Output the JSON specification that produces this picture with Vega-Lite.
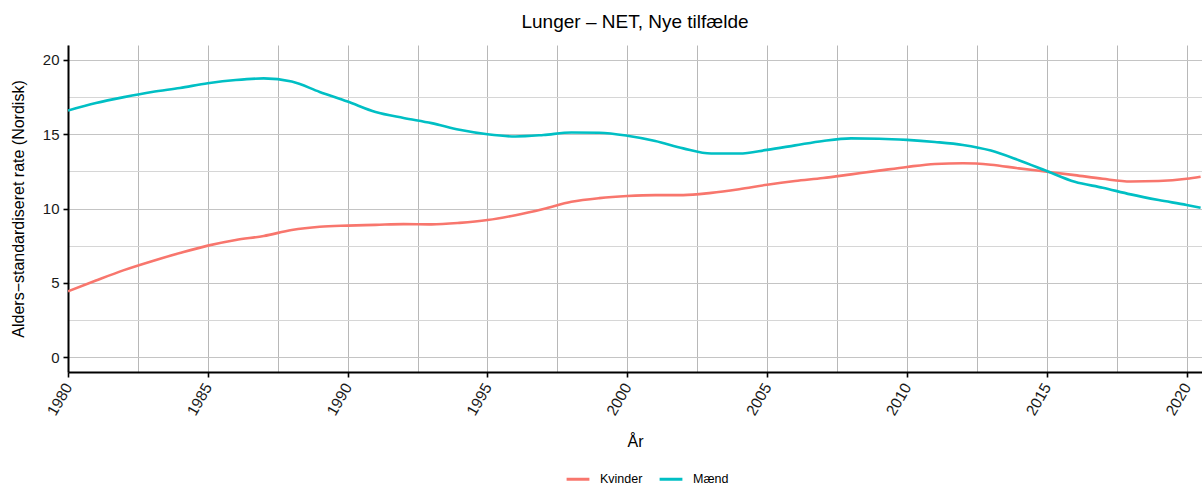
{
  "$schema": "https://vega.github.io/schema/vega-lite/v6.json",
  "autosize": {"type": "none"},
  "padding": {"left": 68, "top": 45, "right": 0, "bottom": 113},
  "width": 1134,
  "height": 327,
  "background": "white",
  "title": {"text": "Lunger – NET, Nye tilfælde", "font": "Liberation Sans", "fontSize": 19, "fontWeight": "normal", "color": "#000", "anchor": "middle", "offset": 13},
  "config": {"view": {"stroke": null}, "font": "Liberation Sans"},
  "data": {"values": [
    {"year": 1980, "sex": "Kvinder", "rate": 4.42},
    {"year": 1981, "sex": "Kvinder", "rate": 5.15},
    {"year": 1982, "sex": "Kvinder", "rate": 5.85},
    {"year": 1983, "sex": "Kvinder", "rate": 6.45},
    {"year": 1984, "sex": "Kvinder", "rate": 7.0},
    {"year": 1985, "sex": "Kvinder", "rate": 7.5},
    {"year": 1986, "sex": "Kvinder", "rate": 7.88},
    {"year": 1987, "sex": "Kvinder", "rate": 8.15},
    {"year": 1988, "sex": "Kvinder", "rate": 8.55},
    {"year": 1989, "sex": "Kvinder", "rate": 8.77},
    {"year": 1990, "sex": "Kvinder", "rate": 8.85},
    {"year": 1991, "sex": "Kvinder", "rate": 8.9},
    {"year": 1992, "sex": "Kvinder", "rate": 8.95},
    {"year": 1993, "sex": "Kvinder", "rate": 8.93},
    {"year": 1994, "sex": "Kvinder", "rate": 9.03},
    {"year": 1995, "sex": "Kvinder", "rate": 9.22},
    {"year": 1996, "sex": "Kvinder", "rate": 9.55},
    {"year": 1997, "sex": "Kvinder", "rate": 9.97},
    {"year": 1998, "sex": "Kvinder", "rate": 10.45},
    {"year": 1999, "sex": "Kvinder", "rate": 10.7},
    {"year": 2000, "sex": "Kvinder", "rate": 10.84},
    {"year": 2001, "sex": "Kvinder", "rate": 10.9},
    {"year": 2002, "sex": "Kvinder", "rate": 10.9},
    {"year": 2003, "sex": "Kvinder", "rate": 11.05},
    {"year": 2004, "sex": "Kvinder", "rate": 11.3},
    {"year": 2005, "sex": "Kvinder", "rate": 11.6},
    {"year": 2006, "sex": "Kvinder", "rate": 11.85},
    {"year": 2007, "sex": "Kvinder", "rate": 12.05},
    {"year": 2008, "sex": "Kvinder", "rate": 12.3},
    {"year": 2009, "sex": "Kvinder", "rate": 12.55},
    {"year": 2010, "sex": "Kvinder", "rate": 12.8},
    {"year": 2011, "sex": "Kvinder", "rate": 13.0},
    {"year": 2012, "sex": "Kvinder", "rate": 13.05},
    {"year": 2013, "sex": "Kvinder", "rate": 12.95},
    {"year": 2014, "sex": "Kvinder", "rate": 12.7},
    {"year": 2015, "sex": "Kvinder", "rate": 12.48},
    {"year": 2016, "sex": "Kvinder", "rate": 12.25},
    {"year": 2017, "sex": "Kvinder", "rate": 12.0},
    {"year": 2018, "sex": "Kvinder", "rate": 11.82},
    {"year": 2019, "sex": "Kvinder", "rate": 11.85},
    {"year": 2020, "sex": "Kvinder", "rate": 12.0},
    {"year": 2020.5, "sex": "Kvinder", "rate": 12.14},
    {"year": 1980, "sex": "Mænd", "rate": 16.6},
    {"year": 1981, "sex": "Mænd", "rate": 17.1},
    {"year": 1982, "sex": "Mænd", "rate": 17.5},
    {"year": 1983, "sex": "Mænd", "rate": 17.85},
    {"year": 1984, "sex": "Mænd", "rate": 18.12},
    {"year": 1985, "sex": "Mænd", "rate": 18.43},
    {"year": 1986, "sex": "Mænd", "rate": 18.65},
    {"year": 1987, "sex": "Mænd", "rate": 18.76},
    {"year": 1988, "sex": "Mænd", "rate": 18.55},
    {"year": 1989, "sex": "Mænd", "rate": 17.85},
    {"year": 1990, "sex": "Mænd", "rate": 17.2},
    {"year": 1991, "sex": "Mænd", "rate": 16.5},
    {"year": 1992, "sex": "Mænd", "rate": 16.1},
    {"year": 1993, "sex": "Mænd", "rate": 15.75},
    {"year": 1994, "sex": "Mænd", "rate": 15.3},
    {"year": 1995, "sex": "Mænd", "rate": 15.0},
    {"year": 1996, "sex": "Mænd", "rate": 14.85},
    {"year": 1997, "sex": "Mænd", "rate": 14.95},
    {"year": 1998, "sex": "Mænd", "rate": 15.12},
    {"year": 1999, "sex": "Mænd", "rate": 15.1},
    {"year": 2000, "sex": "Mænd", "rate": 14.9},
    {"year": 2001, "sex": "Mænd", "rate": 14.55},
    {"year": 2002, "sex": "Mænd", "rate": 14.05},
    {"year": 2003, "sex": "Mænd", "rate": 13.7},
    {"year": 2004, "sex": "Mænd", "rate": 13.7},
    {"year": 2005, "sex": "Mænd", "rate": 13.95},
    {"year": 2006, "sex": "Mænd", "rate": 14.25},
    {"year": 2007, "sex": "Mænd", "rate": 14.55},
    {"year": 2008, "sex": "Mænd", "rate": 14.72},
    {"year": 2009, "sex": "Mænd", "rate": 14.7},
    {"year": 2010, "sex": "Mænd", "rate": 14.62},
    {"year": 2011, "sex": "Mænd", "rate": 14.48},
    {"year": 2012, "sex": "Mænd", "rate": 14.28},
    {"year": 2013, "sex": "Mænd", "rate": 13.9},
    {"year": 2014, "sex": "Mænd", "rate": 13.25},
    {"year": 2015, "sex": "Mænd", "rate": 12.52},
    {"year": 2016, "sex": "Mænd", "rate": 11.8},
    {"year": 2017, "sex": "Mænd", "rate": 11.4},
    {"year": 2018, "sex": "Mænd", "rate": 10.95},
    {"year": 2019, "sex": "Mænd", "rate": 10.57},
    {"year": 2020, "sex": "Mænd", "rate": 10.24},
    {"year": 2020.5, "sex": "Mænd", "rate": 10.05}
  ]},
  "mark": {"type": "line", "strokeWidth": 2.6, "interpolate": "monotone", "clip": true},
  "encoding": {
    "x": {
      "field": "year", "type": "quantitative",
      "scale": {"domain": [1980, 2020.55], "nice": false, "zero": false},
      "axis": {
        "title": "År", "titleFont": "Liberation Sans", "titleFontSize": 16, "titleFontWeight": "normal", "titleColor": "#000", "titlePadding": 15,
        "values": [1980, 1982.5, 1985, 1987.5, 1990, 1992.5, 1995, 1997.5, 2000, 2002.5, 2005, 2007.5, 2010, 2012.5, 2015, 2017.5, 2020],
        "labelExpr": "datum.value % 5 === 0 ? format(datum.value, 'd') : ''",
        "labelAngle": -60, "labelAlign": "right", "labelBaseline": "middle", "labelPadding": 7,
        "labelFont": "Liberation Sans", "labelFontSize": 15.5, "labelColor": "#1a1a1a",
        "grid": true, "gridColor": "#b8b8b8", "gridWidth": 1,
        "domainColor": "#000", "domainWidth": 2,
        "tickColor": "#000", "tickWidth": 1.6, "tickSize": 5,
        "tickOpacity": {"condition": {"test": "datum.value % 5 === 0", "value": 1}, "value": 0},
        "labelOverlap": false, "labelFlush": false
      }
    },
    "y": {
      "field": "rate", "type": "quantitative",
      "scale": {"domain": [-1.01, 21.01], "nice": false, "zero": false},
      "axis": {
        "title": "Alders−standardiseret rate (Nordisk)", "titleFont": "Liberation Sans", "titleFontSize": 16, "titleFontWeight": "normal", "titleColor": "#000", "titlePadding": 16,
        "values": [0, 2.5, 5, 7.5, 10, 12.5, 15, 17.5, 20],
        "labelExpr": "datum.value % 5 === 0 ? format(datum.value, 'd') : ''",
        "labelFont": "Liberation Sans", "labelFontSize": 15, "labelColor": "#1a1a1a", "labelPadding": 4,
        "grid": true,
        "gridColor": {"condition": {"test": "datum.value % 5 === 0", "value": "#c4c4c4"}, "value": "#d6d6d6"},
        "gridWidth": 1,
        "domainColor": "#000", "domainWidth": 2,
        "tickColor": "#000", "tickWidth": 1.6, "tickSize": 5,
        "tickOpacity": {"condition": {"test": "datum.value % 5 === 0", "value": 1}, "value": 0},
        "labelOverlap": false
      }
    },
    "color": {
      "field": "sex", "type": "nominal",
      "scale": {"domain": ["Kvinder", "Mænd"], "range": ["#F8766D", "#00BFC4"]},
      "legend": {
        "title": null, "orient": "none", "direction": "horizontal",
        "legendX": 497, "legendY": 421,
        "symbolType": "stroke", "symbolStrokeWidth": 3, "symbolSize": 520,
        "labelFont": "Liberation Sans", "labelFontSize": 12.5, "labelColor": "#000",
        "columnPadding": 10, "labelOffset": 9
      }
    }
  }
}
